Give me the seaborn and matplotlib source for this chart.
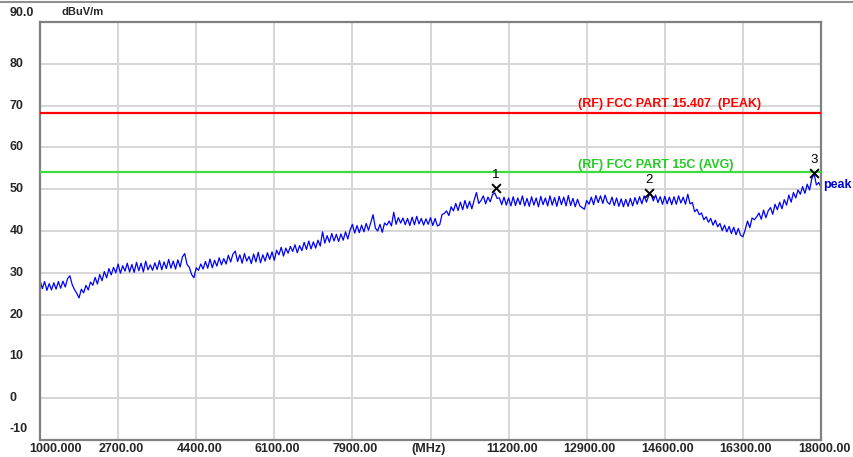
import numpy as np
import pandas as pd
import matplotlib.pyplot as plt
import seaborn as sns
from matplotlib.lines import Line2D
from matplotlib.transforms import ScaledTranslation

# sweep grid, 50 MHz step
freq_mhz = np.arange(1000, 18001, 50)

# levels, one row per 1000 MHz
level_dbuv = [
    28.3, 26.2, 27.9, 25.8, 27.4, 25.9, 27.6, 26.1, 27.9, 26.3, 28.0, 26.6, 28.6, 29.3, 27.2, 26.0, 25.1, 24.0, 26.1, 25.2,
    27.0, 25.9, 27.8, 27.0, 28.9, 27.3, 29.6, 28.1, 30.3, 28.8, 31.0, 29.5, 31.3, 30.0, 32.1, 29.9, 31.7, 30.4, 32.3, 30.2,
    32.0, 30.1, 32.5, 30.5, 32.3, 30.2, 32.8, 30.7, 31.9, 30.6, 32.4, 30.8, 32.9, 30.7, 32.6, 31.0, 33.2, 31.1, 32.8, 30.9,
    33.1, 31.4, 33.8, 34.6, 32.0, 31.3, 29.6, 28.8, 31.2, 30.6, 32.1, 30.9, 32.7, 31.1, 33.3, 31.2, 33.0, 31.6, 33.6, 31.9,
    33.4, 32.1, 34.2, 32.6, 34.5, 35.2, 32.7, 34.3, 32.3, 34.6, 32.8, 33.9, 32.2, 34.5, 32.6, 34.9, 32.4, 34.3, 32.8, 34.8,
    33.2, 35.0, 33.0, 35.4, 34.3, 36.1, 34.0, 35.9, 34.7, 36.3, 35.1, 36.7, 34.8, 36.5, 35.3, 37.3, 35.6, 37.6, 35.7, 37.4,
    35.9, 37.8, 36.4, 39.8, 37.1, 38.9, 37.3, 39.4, 37.6, 39.2, 37.5, 39.3, 37.8, 39.8, 38.1, 40.2, 41.6, 39.5, 41.3, 39.6,
    41.4, 39.8, 41.8, 40.2, 42.0, 43.9, 40.7, 40.0, 41.6, 39.7, 41.9, 41.4, 42.4, 41.2, 44.5, 41.6, 43.2, 41.9, 43.1, 41.5,
    43.0, 41.3, 43.3, 41.5, 43.5, 41.7, 43.0, 41.4, 42.9, 41.6, 43.2, 41.3, 43.0, 41.2, 41.5, 43.9, 44.2, 44.8, 43.7, 45.8,
    44.8, 46.6, 44.9, 46.9, 45.1, 47.3, 45.4, 47.1, 45.3, 47.4, 49.2, 46.6, 47.3, 48.4, 46.5, 48.1, 47.0, 48.7, 49.1, 47.8,
    47.9, 46.3, 48.1, 46.2, 47.9, 46.0, 48.2, 46.1, 47.9, 46.3, 48.4, 46.0, 47.8, 45.9, 48.2, 46.2, 47.9, 45.8, 48.3, 46.3,
    47.9, 46.0, 48.4, 46.2, 48.0, 45.9, 48.3, 46.3, 48.1, 46.0, 48.5, 46.1, 47.8, 45.8, 47.6, 46.0, 45.6, 45.2, 47.3, 46.4,
    48.1, 46.3, 48.5, 46.8, 48.4, 46.6, 48.6, 46.9, 46.4, 48.1, 46.1, 47.9, 45.9, 47.7, 45.8, 47.6, 45.9, 47.8, 46.0, 48.0,
    46.4, 48.2, 46.5, 48.4, 46.9, 48.5, 48.8, 47.2, 48.6, 46.8, 48.2, 46.4, 48.3, 46.5, 48.1, 46.3, 48.2, 46.4, 48.4, 46.7,
    48.1, 46.4, 48.8, 46.5, 46.8, 44.6, 45.2, 43.9, 44.3, 42.7, 43.4, 42.1, 43.0, 41.4, 42.6, 41.0, 41.8, 40.1, 41.4, 39.8,
    41.1, 39.4, 40.9, 39.1, 40.6, 39.0, 38.6, 40.3, 42.4, 40.8, 43.1, 42.7, 43.4, 44.3, 42.8, 45.0, 43.2, 44.8, 45.6, 44.0,
    46.4, 45.1, 46.9, 45.3, 47.5, 46.2, 48.6, 46.9, 49.2, 47.9, 49.8, 48.8, 50.6, 49.0, 51.2, 49.8, 52.5, 53.7, 51.0, 51.6,
    50.4,
]

limit_peak = 68.2
limit_avg = 54.0
limit_peak_name = "(RF) FCC PART 15.407  (PEAK)"
limit_avg_name = "(RF) FCC PART 15C (AVG)"

marker_freq = [10927, 14258, 17850]
marker_level = [50.3, 49.1, 53.9]
marker_names = ["1", "2", "3"]

x_ticks = [1000, 2700, 4400, 6100, 7800, 9500, 11200, 12900, 14600, 16300, 18000]
x_labels = ["1000.000", "2700.00", "4400.00", "6100.00", "7900.00", "(MHz)",
            "11200.00", "12900.00", "14600.00", "16300.00", "18000.00"]
y_ticks = [-10, 0, 10, 20, 30, 40, 50, 60, 70, 80, 90]
y_labels = ["-10", "0", "10", "20", "30", "40", "50", "60", "70", "80", ""]

df = pd.DataFrame({"freq": freq_mhz, "level": level_dbuv})

sns.set_style("white")
plt.rcParams['font.family'] = ['Liberation Sans', 'DejaVu Sans']

fig = plt.figure(figsize=(8.54, 4.57), dpi=100)
ax = fig.add_axes([40 / 854, 17 / 457, 781 / 854, 418 / 457])

sns.lineplot(data=df, x="freq", y="level", ax=ax, color="#0000ff", lw=0.9)

ax.axhline(limit_peak, color="#ff0000", lw=1.6, zorder=3)
ax.axhline(limit_avg, color="#3cdc3c", lw=1.6, zorder=3)
ax.text(12710, 70.4, limit_peak_name, color="#ff0000", fontsize=9, fontweight="bold",
        ha="left", va="center")
ax.text(12710, 55.9, limit_avg_name, color="#22cc22", fontsize=9, fontweight="bold",
        ha="left", va="center")

ax.scatter(marker_freq, marker_level, marker="x", s=40, color="black", lw=1.4, zorder=5)
for f, v, name in zip(marker_freq, marker_level, marker_names):
    ax.annotate(name, (f, v), xytext=(0, 5), textcoords="offset points",
                ha="center", va="bottom", fontsize=9.5, color="black")

ax.text(18000, 50.9, "peak", color="#0000dd", fontsize=9, fontweight="bold",
        ha="left", va="center", clip_on=False,
        transform=ax.transData + ScaledTranslation(2 / 100, 0, fig.dpi_scale_trans))

ax.set_xlim(1000, 18000)
ax.set_ylim(-10, 90)
ax.set_xticks(x_ticks)
ax.set_xticklabels(x_labels)
ax.set_yticks(y_ticks)
ax.set_yticklabels(y_labels)
ax.set_xlabel("")
ax.set_ylabel("")
ax.grid(True, color="#d6d6d6", lw=1.4)
ax.set_axisbelow(True)

ax.tick_params(axis="x", length=0, pad=2, labelsize=9)
ax.tick_params(axis="y", length=0, pad=22, labelsize=9)
for i, lab in enumerate(ax.get_xticklabels()):
    lab.set_fontweight("bold")
    dx = 3
    if i == 0:
        dx = 15
    elif x_labels[i] == "(MHz)":
        dx = -2
    lab.set_transform(lab.get_transform() + ScaledTranslation(dx / 100, 0, fig.dpi_scale_trans))
for i, lab in enumerate(ax.get_yticklabels()):
    lab.set_fontweight("bold")
    lab.set_ha("left")
    dy = 13 if i == 0 else 1.5
    lab.set_transform(lab.get_transform() + ScaledTranslation(0, dy / 100, fig.dpi_scale_trans))

for side in ["left", "bottom", "right", "top"]:
    ax.spines[side].set_visible(True)
    ax.spines[side].set_color("#808080")
    ax.spines[side].set_linewidth(1.6)

fig.text(10 / 854, 1 - 13 / 457, "90.0", fontsize=9, fontweight="bold", ha="left", va="center")
fig.text(62 / 854, 1 - 12 / 457, "dBuV/m", fontsize=8, fontweight="bold", ha="left", va="center")
fig.add_artist(Line2D([0, 1], [1 - 2 / 457, 1 - 2 / 457], color="#909090", lw=1.5))

fig.savefig("out.png", dpi=100)
